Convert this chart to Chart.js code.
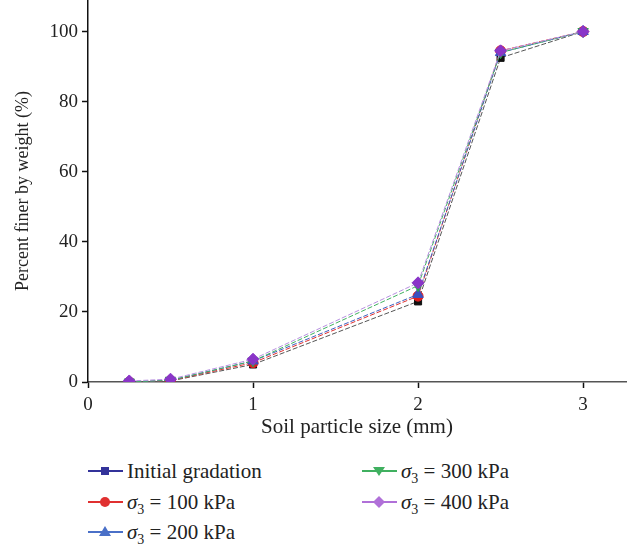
<!DOCTYPE html>
<html>
<head>
<meta charset="utf-8">
<script src="https://cdn.jsdelivr.net/npm/chart.js@4"></script>
<style>
  body { margin: 0; background: #fff; font-family: "Liberation Serif", "DejaVu Serif", serif; overflow: hidden; }
  #wrap { position: relative; width: 638px; height: 549px; overflow: hidden; }
  #chart { position: absolute; left: 0; top: -7px; }
  .leg { position: absolute; font-size: 21px; color: #222; white-space: nowrap; line-height: 22px; }
  .leg svg { vertical-align: middle; margin-right: 4px; position: relative; top: -2px; }
  .leg sub { font-size: 14px; }
</style>
</head>
<body>
<div id="wrap">
  <canvas id="chart" width="638" height="451"></canvas>
  <div id="legend"></div>
</div>
<script>
// particle size (mm)
const sizes = [0.25, 0.5, 1, 2, 2.5, 3];
// percent finer by weight (%)
const initialGradation = [0, 0.3, 5, 23, 92.5, 100];
const kpa100 = [0, 0.4, 5.5, 24.5, 94.5, 100];
const kpa200 = [0, 0.5, 6, 25, 94, 100];
const kpa300 = [0, 0.5, 6, 27.5, 94, 100];
const kpa400 = [0.3, 0.8, 6.5, 28.3, 94.5, 100];
const yTicks = [0, 20, 40, 60, 80, 100];
const xTicks = [0, 1, 2, 3];

const series = [
  { label: 'Initial gradation', data: initialGradation, line: '#555', mark: '#111', legend: '#33339a', shape: 'rect', r: 5 },
  { label: 'σ3 = 100 kPa', data: kpa100, line: '#e03030', mark: '#e02020', legend: '#e03030', shape: 'circle', r: 5 },
  { label: 'σ3 = 200 kPa', data: kpa200, line: '#4060c0', mark: '#3a50c0', legend: '#4a70c8', shape: 'triangle', r: 6 },
  { label: 'σ3 = 300 kPa', data: kpa300, line: '#40b060', mark: '#30a050', legend: '#40b060', shape: 'triangle', rot: 180, r: 6 },
  { label: 'σ3 = 400 kPa', data: kpa400, line: '#b890e0', mark: '#8a35c8', legend: '#b070d8', shape: 'rectRot', r: 6 }
];

const serif = '"Liberation Serif", "DejaVu Serif", serif';

new Chart(document.getElementById('chart'), {
  type: 'line',
  data: {
    datasets: series.map((s, i) => ({
      label: s.label,
      data: sizes.map((x, j) => ({ x: x, y: s.data[j] })),
      order: series.length - i, // later series drawn on top
      borderColor: s.line,
      borderWidth: 1,
      borderDash: [5, 2],
      pointStyle: s.shape,
      rotation: s.rot || 0,
      pointRadius: s.r,
      pointBackgroundColor: s.mark,
      pointBorderColor: s.mark,
      pointBorderWidth: 1,
      tension: 0,
      fill: false
    }))
  },
  options: {
    responsive: false,
    animation: false,
    layout: { padding: { top: 0, right: 12, left: 0, bottom: 0 } },
    plugins: { legend: { display: false }, tooltip: { enabled: false } },
    scales: {
      x: {
        type: 'linear',
        min: 0, max: 3.26,
        afterBuildTicks: sc => { sc.ticks = xTicks.map(v => ({ value: v })); },
        afterFit: sc => { sc.height = 62; sc.paddingLeft = 0; sc.paddingRight = 0; },
        grid: { drawOnChartArea: false, drawTicks: true, tickLength: 6, color: '#111', tickWidth: 1.5 },
        border: { display: true, color: '#555', width: 1.5 },
        ticks: { color: '#222', font: { family: serif, size: 19 }, padding: 6, maxRotation: 0 },
        title: { display: true, text: 'Soil particle size (mm)', color: '#222', font: { family: serif, size: 21 }, padding: { top: 0 } }
      },
      y: {
        min: 0, max: 109,
        afterBuildTicks: sc => { sc.ticks = yTicks.map(v => ({ value: v })); },
        afterFit: sc => { sc.width = 88; sc.paddingTop = 0; sc.paddingBottom = 0; },
        grid: { drawOnChartArea: false, drawTicks: true, tickLength: 6, color: '#111', tickWidth: 1.5 },
        border: { display: true, color: '#111', width: 1.5 },
        ticks: { color: '#222', font: { family: serif, size: 19 }, padding: 4 },
        title: { display: true, text: 'Percent finer by weight (%)', color: '#222', font: { family: serif, size: 18 }, padding: { top: 12, bottom: 4 } }
      }
    }
  }
});

// two-column legend below the plot
const legendPos = [[88, 471], [88, 502], [88, 532], [362, 471], [362, 502]];
function markerSvg(s) {
  let shape = '';
  const c = s.legend;
  if (s.shape === 'rect') shape = `<rect x="13" y="5" width="8" height="8" fill="${c}"/>`;
  else if (s.shape === 'circle') shape = `<circle cx="17" cy="9" r="5" fill="${c}"/>`;
  else if (s.shape === 'triangle' && !s.rot) shape = `<polygon points="17,3 23,13 11,13" fill="${c}"/>`;
  else if (s.shape === 'triangle') shape = `<polygon points="11,5 23,5 17,14" fill="${c}"/>`;
  else shape = `<polygon points="17,3 23,9 17,15 11,9" fill="${c}"/>`;
  return `<svg width="35" height="18"><line x1="0" y1="9" x2="35" y2="9" stroke="${c}" stroke-width="2"/>${shape}</svg>`;
}
const legendEl = document.getElementById('legend');
series.forEach((s, k) => {
  const d = document.createElement('div');
  d.className = 'leg';
  d.style.left = legendPos[k][0] + 'px';
  d.style.top = (legendPos[k][1] - 11) + 'px';
  const txt = k === 0 ? 'Initial gradation' : `<i>σ</i><sub>3</sub> = ${s.label.split('= ')[1]}`;
  d.innerHTML = markerSvg(s) + txt;
  legendEl.appendChild(d);
});
</script>
</body>
</html>
